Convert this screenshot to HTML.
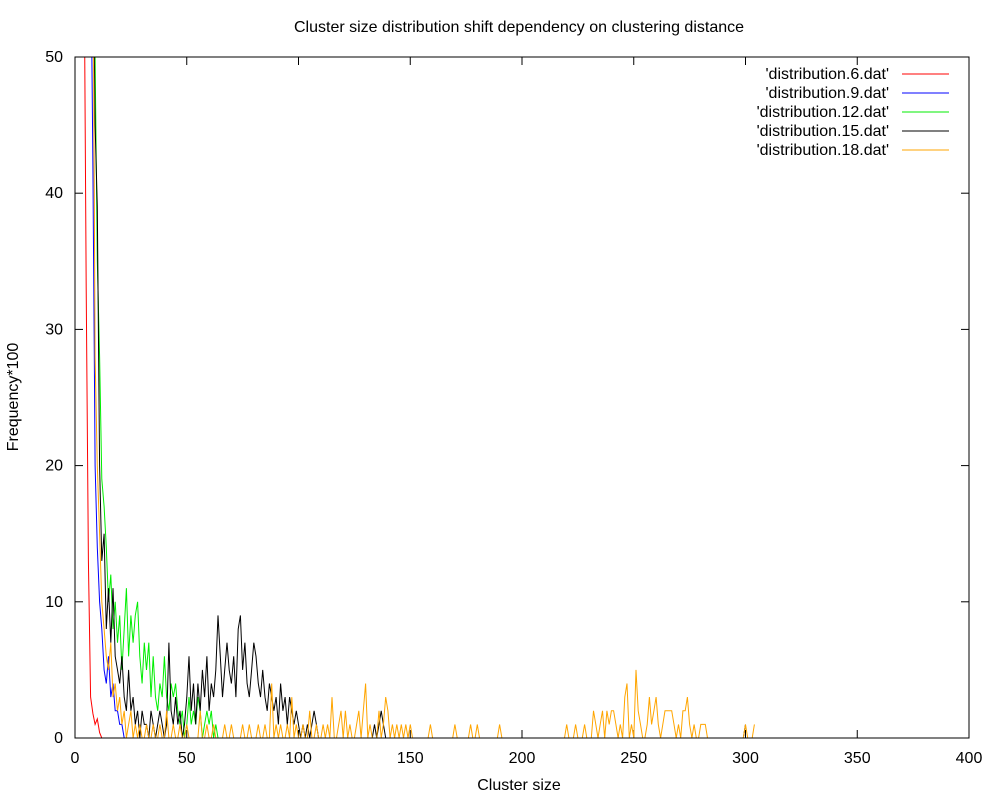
<!DOCTYPE html>
<html><head><meta charset="utf-8"><style>
body{margin:0;background:#fff;}
svg{display:block;font-family:"Liberation Sans",sans-serif;font-size:16px;}
</style></head><body>
<svg id="chart" width="1000" height="800">
<text x="519" y="32" text-anchor="middle">Cluster size distribution shift dependency on clustering distance</text>
<text x="519" y="790" text-anchor="middle">Cluster size</text>
<text transform="translate(18,397) rotate(-90)" text-anchor="middle">Frequency*100</text>
<defs><clipPath id="plotclip"><rect x="75" y="57" width="894" height="681"/></clipPath></defs>
<g id="axes"></g>
<g id="series" clip-path="url(#plotclip)"></g>
<rect x="75" y="57" width="894" height="681" fill="none" stroke="#000" stroke-width="1"/>
<g id="legend"></g>
</svg>
<script>
const xTicks=[0,50,100,150,200,250,300,350,400];
const yTicks=[0,10,20,30,40,50];
const seriesNames=["'distribution.6.dat'","'distribution.9.dat'","'distribution.12.dat'","'distribution.15.dat'","'distribution.18.dat'"];
const seriesColors=["#ff0000","#0000ff","#00ee00","#000000","#ffa500"];
const redX=[4,5,6,7,8,9,10,11,12];
const redY=[60,33,13,3,1.8,1,1.4,0.4,0];
const blueX=[7,8,9,10,11,12,13,14,15,16,17,18,19,20,21,22];
const blueY=[60,42,20,14,10,8,5,4,6,3,4,2,2,1,1,0];
const greenX=[8,9,10,11,12,13,14,15,16,17,18,19,20,21,22,23,24,25,26,27,28,29,30,31,32,33,34,35,36,37,38,39,40,41,42,43,44,45,46,47,48,49,50,51,52,53,54,55,56,57,58,59,60,61,62,63,64];
const greenY=[60,50,35,28,19,17,14,10,12,8,10,7,9,5,8,11,6,9,7,9,10,6,4,7,5,7,3,6,3,2,4,3,6,3,2,4,3,4,2,1,2,0,1,3,1,2,1,3,2,0,1,2,1,2,0,1,0];
const blackX=[8,9,10,11,12,13,14,15,16,17,18,19,20,21,22,23,24,25,26,27,28,29,30,31,32,33,34,35,36,37,38,39,40,41,42,43,44,45,46,47,48,49,50,51,52,53,54,55,56,57,58,59,60,61,62,63,64,65,66,67,68,69,70,71,72,73,74,75,76,77,78,79,80,81,82,83,84,85,86,87,88,89,90,91,92,93,94,95,96,97,98,99,100,101,102,103,104,105,106,107,108,109,134,135,136,137,138,139,300];
const blackY=[60,45,39,20,13,15,8,11,7,11,6,5,4,6,3,2,5,2,3,1,2,0,2,1,1,0,2,1,0,1,2,1,0,1,7,2,1,3,1,2,0,1,3,6,2,4,1,4,2,5,3,6,2,4,3,5,9,6,3,5,7,5,4,6,3,8,9,5,7,4,3,5,7,6,4,3,5,3,2,4,3,2,3,1,4,2,3,1,3,2,1,2,1,0,1,0,1,0,1,2,1,0,1,0,1,2,1,0,1];
const orangeX=[8,9,10,11,12,13,14,15,16,17,18,19,20,21,22,24,25,27,29,32,35,38,41,44,47,50,56,59,62,67,70,75,78,82,85,88,90,92,95,97,99,102,105,108,111,113,115,118,119,121,123,126,127,129,130,132,136,138,139,140,142,144,146,148,150,159,170,177,180,190,220,224,228,232,233,235,236,238,239,240,241,242,244,246,247,249,251,252,253,256,257,258,259,260,261,263,264,265,266,267,268,270,272,273,274,275,277,280,281,282,300,304];
const orangeY=[60,28,20,15,10,8,6,5,7,3,4,2,3,1,2,1,2,1,1,1,1,1,2,1,1,1,2,1,1,1,1,1,1,1,1,4,1,1,1,3,1,1,2,1,1,1,3,1,2,2,1,1,2,2,4,1,2,1,3,2,1,1,1,1,1,1,1,1,1,1,1,1,1,2,1,1,2,2,1,2,2,1,1,3,4,1,5,2,1,1,3,1,2,3,1,1,2,2,2,2,1,1,2,2,3,1,1,1,1,1,1,1];
const allX=[redX,blueX,greenX,blackX,orangeX];
const allY=[redY,blueY,greenY,blackY,orangeY];
const X0=75,X1=969,Y0=738,Y1=57;
function sx(v){return X0+(v-0)/400*(X1-X0);}
function sy(v){return Y0-(v/50)*(Y0-Y1);}
const NS="http://www.w3.org/2000/svg";
const axes=document.getElementById('axes');
function mk(tag,attrs,parent){const e=document.createElementNS(NS,tag);for(const k in attrs)e.setAttribute(k,attrs[k]);parent.appendChild(e);return e;}
xTicks.forEach(t=>{
  const x=sx(t);
  const a=mk('line',{x1:x,y1:Y0,x2:x,y2:Y0-8,stroke:'#000'},axes);
  
  
  const b=mk('line',{x1:x,y1:Y1,x2:x,y2:Y1+8,stroke:'#000'},axes);
  
  
  const l=mk('text',{x:x,y:763,'text-anchor':'middle'},axes);l.textContent=t;
  
  
});
yTicks.forEach(t=>{
  const y=sy(t);
  const a=mk('line',{x1:X0,y1:y,x2:X0+8,y2:y,stroke:'#000'},axes);
  
  
  const b=mk('line',{x1:X1,y1:y,x2:X1-8,y2:y,stroke:'#000'},axes);
  
  
  const l=mk('text',{x:63,y:y+5,'text-anchor':'end'},axes);l.textContent=t;
  
  
});
const sg=document.getElementById('series');
allX.forEach((xs,i)=>{
  const ys=allY[i];const m={};xs.forEach((x,j)=>m[x]=ys[j]);
  const lo=Math.min(...xs),hi=Math.max(...xs);
  let pts=[];
  for(let x=lo;x<=hi;x++){pts.push(sx(x).toFixed(1)+','+sy(m[x]||0).toFixed(1));}
  const p=mk('polyline',{points:pts.join(' '),fill:'none',stroke:seriesColors[i],'stroke-width':1},sg);
  
  
});
const lg=document.getElementById('legend');
seriesNames.forEach((n,i)=>{
  const y=74+i*19;
  const t=mk('text',{x:889,y:y+5,'text-anchor':'end'},lg);t.textContent=n;
  
  
  const l=mk('line',{x1:902,y1:y,x2:949,y2:y,stroke:seriesColors[i]},lg);
  
  
});
</script>
</body></html>
